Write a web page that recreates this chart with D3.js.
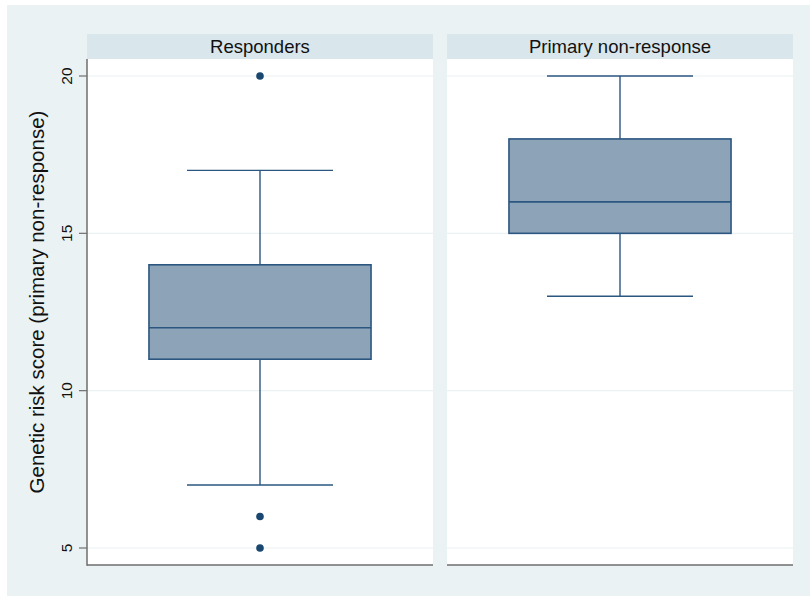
<!DOCTYPE html>
<html><head><meta charset="utf-8">
<script src="https://cdn.jsdelivr.net/npm/d3@7"></script>
<style>body{margin:0;background:#fff}svg{display:block}text{font-family:"Liberation Sans",Arial,sans-serif}</style>
</head><body><svg id="c" width="810" height="596"></svg>
<script>
const categories = ["Responders", "Primary non-response"];
const whiskerLow = [7, 13];
const q1 = [11, 15];
const median = [12, 16];
const q3 = [14, 18];
const whiskerHigh = [17, 20];
const outliers = [[20, 6, 5], []];
const yTicks = [5, 10, 15, 20];
const yTitle = "Genetic risk score (primary non-response)";

const svg = d3.select("#c");
svg.append("rect").attr("x",7).attr("y",5).attr("width",803).attr("height",591).attr("fill","#eaf2f3");

const plotTop = 59, plotBottom = 565;
const y = d3.scaleLinear().domain([5,20]).range([548,76]);
const panels = d3.scaleBand().domain(categories).range([87,793]).paddingInner(14/360).paddingOuter(0);
const inner = d3.scaleBand().domain([0]).range([0,panels.bandwidth()]).paddingInner(0).paddingOuter(0.279);

const data = categories.map((c,i)=>({c, lo:whiskerLow[i], q1:q1[i], med:median[i], q3:q3[i], hi:whiskerHigh[i], out:outliers[i]}));

const g = svg.selectAll("g.panel").data(data).join("g").attr("class","panel")
  .attr("transform", d=>`translate(${panels(d.c)},0)`);
const bw = panels.bandwidth();
// header
g.append("rect").attr("x",0).attr("y",34).attr("width",bw).attr("height",25).attr("fill","#d9e6eb");
g.append("text").attr("x",bw/2).attr("y",53).attr("text-anchor","middle").attr("font-size",18.5).attr("fill","#111").text(d=>d.c);
// plot bg
g.append("rect").attr("x",0).attr("y",plotTop).attr("width",bw).attr("height",plotBottom-plotTop).attr("fill","#fff");
// grid
g.selectAll("line.grid").data(yTicks).join("line").attr("class","grid")
  .attr("x1",0).attr("x2",bw).attr("y1",d=>y(d)).attr("y2",d=>y(d)).attr("stroke","#eaf2f3").attr("stroke-width",1.2);
// bottom axis line
g.append("line").attr("x1",0).attr("x2",bw).attr("y1",plotBottom).attr("y2",plotBottom).attr("stroke","#6e6e6e").attr("stroke-width",1.5);

const boxW = inner.bandwidth();
const bx = inner(0);
const cx = bw/2;
const capW = 146;
const stroke = "#2b5680";
// whiskers
g.append("line").attr("x1",cx).attr("x2",cx).attr("y1",d=>y(d.hi)).attr("y2",d=>y(d.q3)).attr("stroke",stroke).attr("stroke-width",1.4);
g.append("line").attr("x1",cx).attr("x2",cx).attr("y1",d=>y(d.q1)).attr("y2",d=>y(d.lo)).attr("stroke",stroke).attr("stroke-width",1.4);
g.append("line").attr("x1",cx-capW/2).attr("x2",cx+capW/2).attr("y1",d=>y(d.hi)).attr("y2",d=>y(d.hi)).attr("stroke",stroke).attr("stroke-width",1.4);
g.append("line").attr("x1",cx-capW/2).attr("x2",cx+capW/2).attr("y1",d=>y(d.lo)).attr("y2",d=>y(d.lo)).attr("stroke",stroke).attr("stroke-width",1.4);
// box
g.append("rect").attr("x",bx).attr("width",boxW).attr("y",d=>y(d.q3)).attr("height",d=>y(d.q1)-y(d.q3))
  .attr("fill","#8ca3b8").attr("stroke",stroke).attr("stroke-width",1.6);
g.append("line").attr("x1",bx).attr("x2",bx+boxW).attr("y1",d=>y(d.med)).attr("y2",d=>y(d.med)).attr("stroke",stroke).attr("stroke-width",1.6);
// outliers
g.selectAll("circle").data(d=>d.out).join("circle").attr("cx",cx).attr("cy",v=>y(v)).attr("r",3.8).attr("fill","#1a476f");

// y axis
const x0 = panels(categories[0]);
svg.append("line").attr("x1",x0).attr("x2",x0).attr("y1",plotTop).attr("y2",plotBottom+0.75).attr("stroke","#6e6e6e").attr("stroke-width",1.5);
const ax = svg.append("g");
ax.selectAll("line").data(yTicks).join("line").attr("x1",x0-8).attr("x2",x0).attr("y1",d=>y(d)).attr("y2",d=>y(d)).attr("stroke","#6e6e6e").attr("stroke-width",1.2);
ax.selectAll("text").data(yTicks).join("text")
  .attr("transform",d=>`translate(72,${y(d)}) rotate(-90)`).attr("text-anchor","middle")
  .attr("font-size",15.5).attr("fill","#111").text(d=>d);
svg.append("text").attr("transform",`translate(44,${(plotTop+plotBottom)/2 - 10}) rotate(-90)`).attr("text-anchor","middle")
  .attr("font-size",20.5).attr("fill","#111").text(yTitle);
</script></body></html>
